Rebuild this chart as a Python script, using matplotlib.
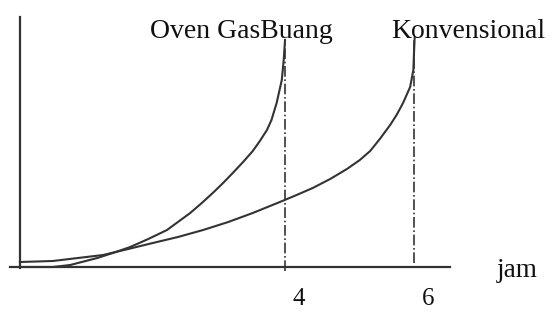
import matplotlib as mpl
import matplotlib.pyplot as plt

mpl.rcParams['font.family'] = ['Liberation Serif', 'DejaVu Serif']

# jam (x) vs nilai relatif (y)
oven_x = [-0.11, 0.40, 0.67, 1.09, 1.33, 1.60, 1.88, 2.17, 2.53, 2.71, 2.88, 3.04, 3.19,
          3.35, 3.50, 3.61, 3.72, 3.79, 3.87, 3.95, 3.98, 4.00]
oven_y = [0, 0, 2, 9, 14, 20, 28, 37, 54, 64, 74, 84, 94,
          105, 116, 126, 137, 147, 164, 187, 207, 227]
konv_x = [-0.11, 0.40, 0.79, 1.18, 1.57, 1.95, 2.34, 2.73, 3.12, 3.50, 3.92, 4.18, 4.43,
          4.70, 4.96, 5.16, 5.32, 5.47, 5.63, 5.73, 5.83, 5.94, 5.99, 6.00, 6.01]
konv_y = [5, 6, 9, 12, 18, 24, 30, 37, 45, 54, 65, 72, 79,
          88, 98, 107, 116, 128, 142, 152, 164, 180, 197, 214, 229]
tick_x = [4, 6]
tick_lbl = ["4", "6"]

fig = plt.figure(figsize=(5.51, 3.11), dpi=100)
ax = fig.add_axes([0, 0, 1, 1])
ax.set_xlim(-0.419, 8.124)
ax.set_ylim(-44, 267)

c = "#333333"
ax.plot(oven_x, oven_y, color=c, lw=1.5)
ax.plot(konv_x, konv_y, color=c, lw=1.5)

# garis putus-putus ke sumbu x
ax.vlines(4, -4, oven_y[-1], color=c, lw=1.2, linestyles="dashdot")
ax.vlines(6, 4, konv_y[-1], color=c, lw=1.2, linestyles="dashdot")

for s in ["top", "right"]:
    ax.spines[s].set_visible(False)
ax.spines["left"].set_position(("data", -0.11))
ax.spines["left"].set_bounds(-1, 250)
ax.spines["bottom"].set_position(("data", 0))
ax.spines["bottom"].set_bounds(-0.26, 6.56)
for s in ["left", "bottom"]:
    ax.spines[s].set_color(c)
    ax.spines[s].set_linewidth(1.6)
ax.set_xticks([])
ax.set_yticks([])

for x, t in zip(tick_x, tick_lbl):
    ax.text(x + 0.22, -43, t, fontsize=18, ha="center", va="bottom", color="#111111")

ax.text(1.91, 229, "Oven GasBuang", fontsize=20, ha="left", va="baseline", color="#111111")
ax.text(5.64, 229, "Konvensional", fontsize=20, ha="left", va="baseline", color="#111111")
ax.text(7.28, -10, "jam", fontsize=19.5, ha="left", va="baseline", color="#111111")

fig.savefig("out.png", dpi=100)
